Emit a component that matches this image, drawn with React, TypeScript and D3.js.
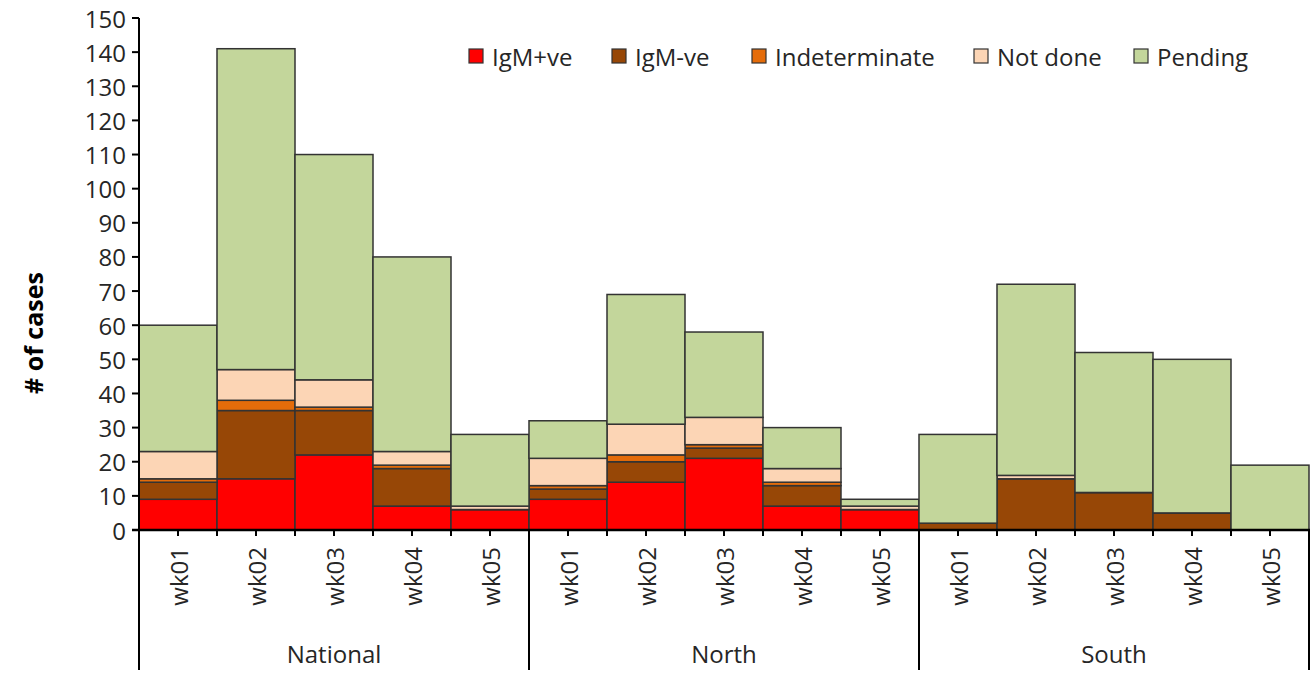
import React from "react";
import * as d3 from "d3";

const groups = ["National", "North", "South"];
const weeks = ["wk01", "wk02", "wk03", "wk04", "wk05"];
const seriesNames = ["IgM+ve", "IgM-ve", "Indeterminate", "Not done", "Pending"];
const seriesColors = ["#FF0000", "#974706", "#E46C0A", "#FCD5B5", "#C3D69B"];

// values per group, per week (wk01..wk05)
const igmPos = [
  [9, 15, 22, 7, 6],
  [9, 14, 21, 7, 6],
  [0, 0, 0, 0, 0],
];
const igmNeg = [
  [5, 20, 13, 11, 0],
  [3, 6, 3, 6, 0],
  [2, 15, 11, 5, 0],
];
const indeterminate = [
  [1, 3, 1, 1, 0],
  [1, 2, 1, 1, 0],
  [0, 0, 0, 0, 0],
];
const notDone = [
  [8, 9, 8, 4, 1],
  [8, 9, 8, 4, 1],
  [0, 1, 0, 0, 0],
];
const pending = [
  [37, 94, 66, 57, 21],
  [11, 38, 25, 12, 2],
  [26, 56, 41, 45, 19],
];
const yTicks = [0, 10, 20, 30, 40, 50, 60, 70, 80, 90, 100, 110, 120, 130, 140, 150];

const W = 1314;
const H = 675;
const FONT = "'Open Sans', sans-serif";

export default function App() {
  const left = 139;
  const right = 1309;
  const bottom = 530;
  const top = 18;

  const rows: any[] = [];
  groups.forEach((g, gi) => {
    weeks.forEach((w, wi) => {
      rows.push({
        key: g + "|" + w,
        group: g,
        week: w,
        "IgM+ve": igmPos[gi][wi],
        "IgM-ve": igmNeg[gi][wi],
        Indeterminate: indeterminate[gi][wi],
        "Not done": notDone[gi][wi],
        Pending: pending[gi][wi],
      });
    });
  });

  const x = d3.scaleBand<string>().domain(rows.map((r) => r.key)).range([left, right]).padding(0);
  const y = d3.scaleLinear().domain([0, 150]).range([bottom, top]);
  const stacked = d3.stack<any>().keys(seriesNames)(rows);
  const bw = x.bandwidth();

  const legendSquareX = [469, 612, 752, 974, 1134];
  const legendY = 56;

  const groupBounds = groups.map((g) => {
    const keys = rows.filter((r) => r.group === g).map((r) => r.key);
    const x0 = x(keys[0])!;
    const x1 = x(keys[keys.length - 1])! + bw;
    return { g, x0, x1 };
  });

  const halfTicks: number[] = [];
  rows.forEach((r) => {
    halfTicks.push(x(r.key)!);
    halfTicks.push(x(r.key)! + bw / 2);
  });
  halfTicks.push(right);

  return (
    <svg width={W} height={H} style={{ display: "block", position: "absolute", left: 0, top: 0 }} fontFamily={FONT}>
      <rect width={W} height={H} fill="#fff" />
      {/* bars */}
      {stacked.map((s, si) => (
        <g key={s.key}>
          {s.map((d: any) => {
            const h = y(d[0]) - y(d[1]);
            const bx = x(d.data.key)!;
            if (h <= 0) {
              return (
                <line key={d.data.key} x1={bx} x2={bx + bw} y1={y(d[1])} y2={y(d[1])} stroke="#333" strokeWidth={1.5} />
              );
            }
            return (
              <rect
                key={d.data.key}
                x={bx}
                y={y(d[1])}
                width={bw}
                height={h}
                fill={seriesColors[si]}
                stroke="#333"
                strokeWidth={1.5}
              />
            );
          })}
        </g>
      ))}
      {/* y axis */}
      <line x1={left} x2={left} y1={top} y2={bottom} stroke="#000" strokeWidth={2} />
      {yTicks.map((t) => (
        <g key={t}>
          <line x1={left - 7} x2={left} y1={y(t)} y2={y(t)} stroke="#000" strokeWidth={2} />
          <text x={left - 13} y={y(t)} textAnchor="end" dominantBaseline="central" fontSize={24} fill="#262626">
            {t}
          </text>
        </g>
      ))}
      <text
        transform={`translate(33,333) rotate(-90)`}
        textAnchor="middle"
        dominantBaseline="central"
        fontSize={25}
        fontWeight="bold"
        fill="#000"
      >
        # of cases
      </text>
      {/* x axis */}
      <line x1={left - 7} x2={right + 1} y1={bottom} y2={bottom} stroke="#000" strokeWidth={2.5} />
      {halfTicks.map((t, i) => (
        <line key={i} x1={t} x2={t} y1={bottom} y2={bottom + 6} stroke="#000" strokeWidth={2} />
      ))}
      {rows.map((r) => (
        <text
          key={r.key}
          transform={`translate(${x(r.key)! + bw / 2},547) rotate(-90)`}
          textAnchor="end"
          dominantBaseline="central"
          fontSize={24}
          fill="#262626"
        >
          {r.week}
        </text>
      ))}
      {groupBounds.map((gb, i) => (
        <line key={"gl" + i} x1={gb.x0} x2={gb.x0} y1={bottom} y2={670} stroke="#000" strokeWidth={2} />
      ))}
      <line x1={right} x2={right} y1={bottom} y2={670} stroke="#000" strokeWidth={2} />
      {groupBounds.map((gb) => (
        <text key={gb.g} x={(gb.x0 + gb.x1) / 2} y={653} textAnchor="middle" dominantBaseline="central" fontSize={24} fill="#262626">
          {gb.g}
        </text>
      ))}
      {/* legend */}
      {seriesNames.map((s, i) => (
        <g key={s}>
          <rect x={legendSquareX[i]} y={legendY - 7} width={14} height={14} fill={seriesColors[i]} stroke="#333" strokeWidth={1.2} />
          <text x={legendSquareX[i] + 23} y={legendY} dominantBaseline="central" fontSize={24} fill="#262626">
            {s}
          </text>
        </g>
      ))}
    </svg>
  );
}
